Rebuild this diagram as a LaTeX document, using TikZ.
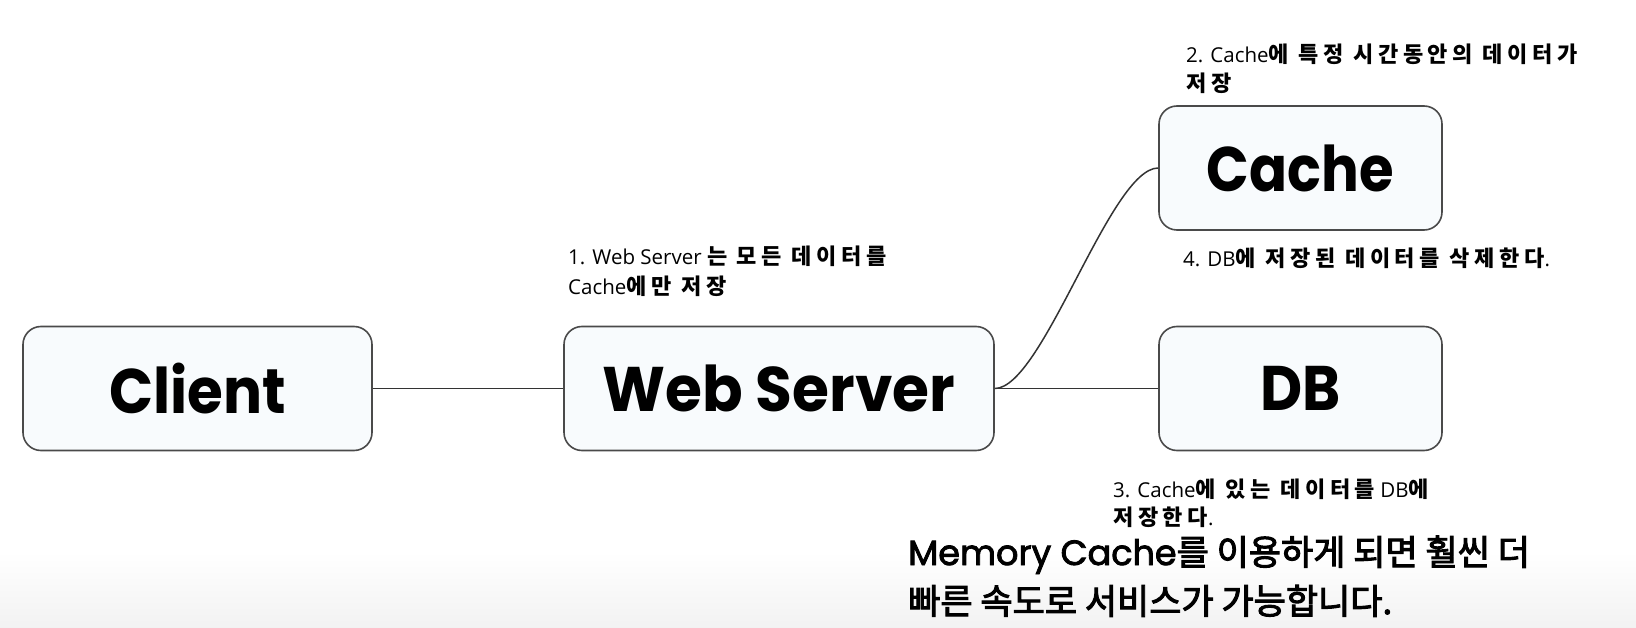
\documentclass[tikz,border=0pt]{standalone}
\usepackage{fontspec}
\usepackage{graphicx}
\setmainfont{Noto Sans CJK KR}
\newfontfamily\pop{Poppins}
\newfontfamily\popfb{Poppins}[FakeBold=2.4]
\newfontfamily\latn{Open Sans}
\newfontfamily\kofont{Noto Sans CJK KR}
\newfontfamily\kosub{Noto Sans CJK KR}[FakeBold=2.8]
\newfontfamily\kospaced{Noto Sans CJK KR}[LetterSpace=21]
\newcommand{\kb}[1]{{\kospaced\bfseries\fontsize{22}{24}\selectfont #1}}
\newcommand{\boxtext}[2][0.92]{\scalebox{#1}[1]{#2}}
\definecolor{boxfill}{HTML}{F8FBFD}
\definecolor{boxline}{HTML}{4A4A4A}
\definecolor{wireline}{HTML}{333333}
\begin{document}
\begin{tikzpicture}[x=1pt,y=-1pt,
  boxstyle/.style={draw=boxline, line width=1.6pt, fill=boxfill, rounded corners=18pt,
    minimum width=#1, minimum height=124pt, inner sep=0pt,
    font=\pop\bfseries\fontsize{63}{70}\selectfont},
  wire/.style={draw=wireline, line width=1.5pt},
  note/.style={anchor=base west, inner sep=0pt, font=\latn\fontsize{20.5}{24}\selectfont},
  sub/.style={anchor=base west, inner sep=0pt, font=\kosub\fontsize{35}{40}\selectfont}]
\useasboundingbox (0,0) rectangle (1636,628);
\fill[white] (0,0) rectangle (1636,628);
\shade[top color=white, bottom color=gray!10] (0,552) rectangle (1636,628);
% boxes
\node[boxstyle=349pt] (client) at (197.5,388.5) {\boxtext{Client}};
\node[boxstyle=430pt] (web) at (779,388.5) {\boxtext[0.95]{Web Server}};
\node[boxstyle=283pt] (cache) at (1300.5,168) {\boxtext[0.89]{Cache}};
\node[boxstyle=283pt] (db) at (1300.5,388.5) {\boxtext{DB}};
% connectors
\draw[wire] (client.east) -- (web.west);
\draw[wire] (web.east) -- (db.west);
\draw[wire] (web.east) .. controls +(48,0) and +(-48,0) .. (cache.west);
% notes
\node[note] (n1a) at (568,265) {1. Web Server \kb{는 모든 데이터를}};
\node[note] (n1b) at (568,295) {Cache\kb{에만 저장}};
\node[note] (n2a) at (1186,63) {2. Cache\kb{에 특정 시간동안의 데이터가}};
\node[note] (n2b) at (1186,92) {\kb{저장}};
\node[note] (n4) at (1183,267) {4. DB\kb{에 저장된 데이터를 삭제한다}.};
\node[note] (n3a) at (1113,497) {3. Cache\kb{에 있는 데이터를} DB\kb{에}};
\node[note] (n3b) at (1113,525) {\kb{저장한다}.};
% subtitle
\node[sub] (s1) at (908,565) {{\popfb Memory Cache}를 이용하게 되면 훨씬 더};
\node[sub] (s2) at (908,614) {빠른 속도로 서비스가 가능합니다.};
\end{tikzpicture}
\end{document}
